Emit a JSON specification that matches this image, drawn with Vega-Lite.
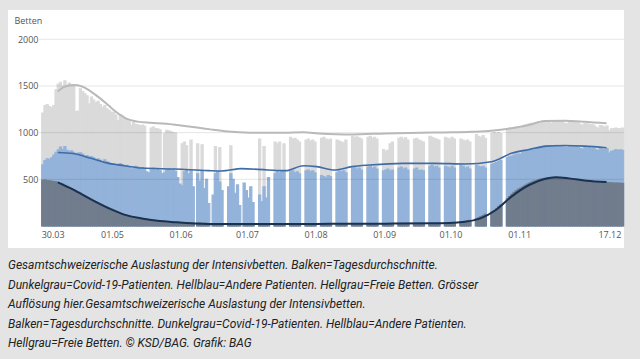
{
  "$schema": "https://vega.github.io/schema/vega-lite/v6.json",
  "width": 616,
  "height": 238,
  "autosize": {"type": "none"},
  "padding": {"left": 8, "top": 10, "right": 16, "bottom": 111},
  "background": "#e4e4e4",
  "view": {"fill": "#ffffff", "stroke": null},
  "config": {"font": "Open Sans", "bar": {"binSpacing": 0}},
  "title": {
    "text": [
      "Gesamtschweizerische Auslastung der Intensivbetten. Balken=Tagesdurchschnitte.",
      "Dunkelgrau=Covid-19-Patienten. Hellblau=Andere Patienten. Hellgrau=Freie Betten. Grösser",
      "Auflösung hier.Gesamtschweizerische Auslastung der Intensivbetten.",
      "Balken=Tagesdurchschnitte. Dunkelgrau=Covid-19-Patienten. Hellblau=Andere Patienten.",
      "Hellgrau=Freie Betten. © KSD/BAG. Grafik: BAG"
    ],
    "orient": "bottom",
    "anchor": "start",
    "frame": "bounds",
    "baseline": "top",
    "offset": 12,
    "font": "Roboto",
    "fontSize": 12,
    "fontStyle": "italic",
    "fontWeight": "normal",
    "color": "#222222",
    "lineHeight": 19.5
  },
  "datasets": {
    "tage": [
      {"date":"2020-03-30","covid":490,"belegt":655,"total":1210},
      {"date":"2020-03-31","covid":492,"belegt":700,"total":1290},
      {"date":"2020-04-01","covid":488,"belegt":720,"total":1300},
      {"date":"2020-04-02","covid":484,"belegt":715,"total":1280},
      {"date":"2020-04-03","covid":480,"belegt":730,"total":1265},
      {"date":"2020-04-04","covid":476,"belegt":760,"total":1290},
      {"date":"2020-04-05","covid":472,"belegt":790,"total":1460},
      {"date":"2020-04-06","covid":466,"belegt":815,"total":1520},
      {"date":"2020-04-07","covid":458,"belegt":845,"total":1540},
      {"date":"2020-04-08","covid":448,"belegt":820,"total":1500},
      {"date":"2020-04-09","covid":437,"belegt":850,"total":1555},
      {"date":"2020-04-10","covid":425,"belegt":810,"total":1510},
      {"date":"2020-04-11","covid":413,"belegt":800,"total":1530},
      {"date":"2020-04-12","covid":402,"belegt":805,"total":1495},
      {"date":"2020-04-13","covid":390,"belegt":790,"total":1505},
      {"date":"2020-04-14","covid":377,"belegt":770,"total":1225},
      {"date":"2020-04-15","covid":364,"belegt":780,"total":1230},
      {"date":"2020-04-16","covid":351,"belegt":785,"total":1470},
      {"date":"2020-04-17","covid":338,"belegt":770,"total":1440},
      {"date":"2020-04-18","covid":325,"belegt":750,"total":1420},
      {"date":"2020-04-19","covid":311,"belegt":755,"total":1395},
      {"date":"2020-04-20","covid":298,"belegt":740,"total":1310},
      {"date":"2020-04-21","covid":285,"belegt":745,"total":1380},
      {"date":"2020-04-22","covid":272,"belegt":730,"total":1350},
      {"date":"2020-04-23","covid":260,"belegt":700,"total":1320},
      {"date":"2020-04-24","covid":248,"belegt":720,"total":1335},
      {"date":"2020-04-25","covid":236,"belegt":705,"total":1300},
      {"date":"2020-04-26","covid":224,"belegt":690,"total":1270},
      {"date":"2020-04-27","covid":212,"belegt":710,"total":1290},
      {"date":"2020-04-28","covid":201,"belegt":690,"total":1255},
      {"date":"2020-04-29","covid":190,"belegt":680,"total":1240},
      {"date":"2020-04-30","covid":180,"belegt":670,"total":1220},
      {"date":"2020-05-01","covid":170,"belegt":660,"total":1215},
      {"date":"2020-05-02","covid":160,"belegt":640,"total":1190},
      {"date":"2020-05-03","covid":150,"belegt":650,"total":1130},
      {"date":"2020-05-04","covid":140,"belegt":670,"total":1195},
      {"date":"2020-05-05","covid":131,"belegt":655,"total":1180},
      {"date":"2020-05-06","covid":122,"belegt":640,"total":1150},
      {"date":"2020-05-07","covid":115,"belegt":650,"total":1140},
      {"date":"2020-05-08","covid":108,"belegt":625,"total":1125},
      {"date":"2020-05-09","covid":102,"belegt":610,"total":1080},
      {"date":"2020-05-10","covid":97,"belegt":615,"total":1110},
      {"date":"2020-05-11","covid":92,"belegt":640,"total":1090},
      {"date":"2020-05-12","covid":88,"belegt":630,"total":1085},
      {"date":"2020-05-13","covid":84,"belegt":620,"total":1075},
      {"date":"2020-05-14","covid":80,"belegt":625,"total":1080},
      {"date":"2020-05-15","covid":76,"belegt":610,"total":1070},
      {"date":"2020-05-16","covid":72,"belegt":580},
      {"date":"2020-05-17","covid":69,"belegt":570},
      {"date":"2020-05-18","covid":66,"belegt":610,"total":1050},
      {"date":"2020-05-19","covid":62,"belegt":620,"total":1060},
      {"date":"2020-05-20","covid":59,"belegt":600,"total":1045},
      {"date":"2020-05-21","covid":56,"belegt":605,"total":1040},
      {"date":"2020-05-22","covid":53,"belegt":590,"total":1030},
      {"date":"2020-05-23","covid":51,"belegt":560},
      {"date":"2020-05-24","covid":49,"belegt":570,"total":990},
      {"date":"2020-05-25","covid":47,"belegt":600,"total":1025},
      {"date":"2020-05-26","covid":45,"belegt":610,"total":1020},
      {"date":"2020-05-27","covid":43,"belegt":595,"total":1010},
      {"date":"2020-05-28","covid":42,"belegt":600,"total":1000},
      {"date":"2020-05-29","covid":40,"belegt":585,"total":995},
      {"date":"2020-05-30","covid":39,"belegt":520},
      {"date":"2020-05-31","covid":37,"belegt":450},
      {"date":"2020-06-01","covid":36,"belegt":430,"total":880},
      {"date":"2020-06-02","covid":35,"belegt":580,"total":900},
      {"date":"2020-06-03","covid":34,"belegt":600,"total":860},
      {"date":"2020-06-04","covid":33,"belegt":560},
      {"date":"2020-06-05","covid":32,"belegt":590,"total":920},
      {"date":"2020-06-06","covid":31,"belegt":420},
      {"date":"2020-06-08","covid":30,"belegt":560,"total":880},
      {"date":"2020-06-09","covid":30,"belegt":480},
      {"date":"2020-06-10","covid":29,"belegt":590,"total":870},
      {"date":"2020-06-11","covid":28,"belegt":400},
      {"date":"2020-06-12","covid":28,"belegt":500},
      {"date":"2020-06-13","covid":27,"belegt":240},
      {"date":"2020-06-15","covid":27,"belegt":330},
      {"date":"2020-06-16","covid":26,"belegt":560,"total":850},
      {"date":"2020-06-17","covid":26,"belegt":580},
      {"date":"2020-06-18","covid":25,"belegt":470,"total":840},
      {"date":"2020-06-19","covid":25,"belegt":380},
      {"date":"2020-06-22","covid":24,"belegt":420},
      {"date":"2020-06-23","covid":24,"belegt":560,"total":860},
      {"date":"2020-06-24","covid":23,"belegt":500},
      {"date":"2020-06-25","covid":23,"belegt":350},
      {"date":"2020-06-26","covid":23,"belegt":440},
      {"date":"2020-06-27","covid":22,"belegt":220},
      {"date":"2020-06-29","covid":22,"belegt":460},
      {"date":"2020-06-30","covid":22,"belegt":380},
      {"date":"2020-07-01","covid":22,"belegt":300},
      {"date":"2020-07-02","covid":21,"belegt":420},
      {"date":"2020-07-03","covid":21,"belegt":250},
      {"date":"2020-07-06","covid":21,"belegt":330,"total":930},
      {"date":"2020-07-07","covid":20,"belegt":260},
      {"date":"2020-07-08","covid":20,"belegt":420,"total":850},
      {"date":"2020-07-09","covid":20,"belegt":300},
      {"date":"2020-07-10","covid":20,"belegt":520},
      {"date":"2020-07-13","covid":19,"belegt":560,"total":900},
      {"date":"2020-07-14","covid":19,"belegt":590,"total":880},
      {"date":"2020-07-15","covid":19,"belegt":570,"total":900},
      {"date":"2020-07-16","covid":19,"belegt":590},
      {"date":"2020-07-17","covid":19,"belegt":580,"total":880},
      {"date":"2020-07-20","covid":19,"belegt":580,"total":950},
      {"date":"2020-07-21","covid":19,"belegt":590,"total":930},
      {"date":"2020-07-22","covid":19,"belegt":570,"total":940},
      {"date":"2020-07-23","covid":19,"belegt":580,"total":920},
      {"date":"2020-07-24","covid":19,"belegt":560,"total":900},
      {"date":"2020-07-27","covid":19,"belegt":590,"total":920},
      {"date":"2020-07-28","covid":19,"belegt":600,"total":930},
      {"date":"2020-07-29","covid":20,"belegt":580,"total":910},
      {"date":"2020-07-30","covid":20,"belegt":590,"total":920},
      {"date":"2020-07-31","covid":20,"belegt":570,"total":900},
      {"date":"2020-08-03","covid":20,"belegt":540,"total":940},
      {"date":"2020-08-04","covid":20,"belegt":530,"total":950},
      {"date":"2020-08-05","covid":20,"belegt":520,"total":930},
      {"date":"2020-08-06","covid":20,"belegt":540,"total":920},
      {"date":"2020-08-07","covid":20,"belegt":530,"total":930},
      {"date":"2020-08-10","covid":21,"belegt":570,"total":920},
      {"date":"2020-08-11","covid":21,"belegt":590,"total":910},
      {"date":"2020-08-12","covid":21,"belegt":580,"total":900},
      {"date":"2020-08-13","covid":22,"belegt":590,"total":890},
      {"date":"2020-08-14","covid":22,"belegt":570,"total":920},
      {"date":"2020-08-17","covid":22,"belegt":620,"total":960},
      {"date":"2020-08-18","covid":23,"belegt":630,"total":950},
      {"date":"2020-08-19","covid":23,"belegt":610,"total":955},
      {"date":"2020-08-20","covid":23,"belegt":620,"total":945},
      {"date":"2020-08-21","covid":24,"belegt":600,"total":930},
      {"date":"2020-08-24","covid":24,"belegt":630,"total":950},
      {"date":"2020-08-25","covid":24,"belegt":640,"total":960},
      {"date":"2020-08-26","covid":25,"belegt":620,"total":940},
      {"date":"2020-08-27","covid":25,"belegt":630,"total":950},
      {"date":"2020-08-28","covid":25,"belegt":610,"total":930},
      {"date":"2020-08-31","covid":25,"belegt":590,"total":820},
      {"date":"2020-09-01","covid":25,"belegt":600,"total":800},
      {"date":"2020-09-02","covid":25,"belegt":610,"total":810},
      {"date":"2020-09-03","covid":25,"belegt":590,"total":880},
      {"date":"2020-09-04","covid":25,"belegt":600,"total":900},
      {"date":"2020-09-07","covid":25,"belegt":620,"total":940},
      {"date":"2020-09-08","covid":25,"belegt":630,"total":950},
      {"date":"2020-09-09","covid":25,"belegt":610,"total":930},
      {"date":"2020-09-10","covid":25,"belegt":620,"total":945},
      {"date":"2020-09-11","covid":25,"belegt":600,"total":920},
      {"date":"2020-09-14","covid":26,"belegt":610,"total":930},
      {"date":"2020-09-15","covid":26,"belegt":620,"total":940},
      {"date":"2020-09-16","covid":26,"belegt":590,"total":920},
      {"date":"2020-09-17","covid":26,"belegt":600,"total":910},
      {"date":"2020-09-18","covid":26,"belegt":590,"total":900},
      {"date":"2020-09-21","covid":27,"belegt":640,"total":960},
      {"date":"2020-09-22","covid":27,"belegt":650,"total":950},
      {"date":"2020-09-23","covid":27,"belegt":630,"total":940},
      {"date":"2020-09-24","covid":27,"belegt":640,"total":930},
      {"date":"2020-09-25","covid":28,"belegt":620,"total":920},
      {"date":"2020-09-28","covid":29,"belegt":640,"total":950},
      {"date":"2020-09-29","covid":30,"belegt":630,"total":940},
      {"date":"2020-09-30","covid":31,"belegt":620,"total":930},
      {"date":"2020-10-01","covid":33,"belegt":640,"total":950},
      {"date":"2020-10-02","covid":35,"belegt":620,"total":930},
      {"date":"2020-10-05","covid":42,"belegt":650,"total":930},
      {"date":"2020-10-06","covid":46,"belegt":640,"total":920},
      {"date":"2020-10-07","covid":50,"belegt":620,"total":910},
      {"date":"2020-10-08","covid":55,"belegt":630,"total":920},
      {"date":"2020-10-09","covid":61,"belegt":610,"total":900},
      {"date":"2020-10-12","covid":78,"belegt":650,"total":980},
      {"date":"2020-10-13","covid":88,"belegt":640,"total":960},
      {"date":"2020-10-14","covid":100,"belegt":630,"total":950},
      {"date":"2020-10-15","covid":112,"belegt":640,"total":970},
      {"date":"2020-10-16","covid":126,"belegt":620,"total":940},
      {"date":"2020-10-19","covid":150,"belegt":660,"total":990},
      {"date":"2020-10-20","covid":165,"belegt":670,"total":1000},
      {"date":"2020-10-21","covid":185,"belegt":680,"total":990},
      {"date":"2020-10-22","covid":205,"belegt":690,"total":1000},
      {"date":"2020-10-23","covid":225,"belegt":700,"total":990},
      {"date":"2020-10-26","covid":290,"belegt":730,"total":1040},
      {"date":"2020-10-27","covid":315,"belegt":740,"total":1050},
      {"date":"2020-10-28","covid":340,"belegt":750,"total":1040},
      {"date":"2020-10-29","covid":360,"belegt":760,"total":1050},
      {"date":"2020-10-30","covid":380,"belegt":770,"total":1060},
      {"date":"2020-10-31","covid":395,"belegt":770,"total":1045},
      {"date":"2020-11-01","covid":405,"belegt":770,"total":1040},
      {"date":"2020-11-02","covid":420,"belegt":790,"total":1070},
      {"date":"2020-11-03","covid":435,"belegt":800,"total":1080},
      {"date":"2020-11-04","covid":448,"belegt":810,"total":1090},
      {"date":"2020-11-05","covid":460,"belegt":820,"total":1095},
      {"date":"2020-11-06","covid":470,"belegt":830,"total":1100},
      {"date":"2020-11-07","covid":480,"belegt":830,"total":1095},
      {"date":"2020-11-08","covid":488,"belegt":835,"total":1090},
      {"date":"2020-11-09","covid":495,"belegt":845,"total":1110},
      {"date":"2020-11-10","covid":502,"belegt":850,"total":1120},
      {"date":"2020-11-11","covid":508,"belegt":855,"total":1125},
      {"date":"2020-11-12","covid":512,"belegt":860,"total":1120},
      {"date":"2020-11-13","covid":516,"belegt":860,"total":1125},
      {"date":"2020-11-14","covid":518,"belegt":855,"total":1110},
      {"date":"2020-11-15","covid":520,"belegt":850,"total":1100},
      {"date":"2020-11-16","covid":520,"belegt":860,"total":1125},
      {"date":"2020-11-17","covid":518,"belegt":865,"total":1130},
      {"date":"2020-11-18","covid":515,"belegt":860,"total":1120},
      {"date":"2020-11-19","covid":512,"belegt":855,"total":1125},
      {"date":"2020-11-20","covid":510,"belegt":850,"total":1115},
      {"date":"2020-11-21","covid":507,"belegt":845,"total":1100},
      {"date":"2020-11-22","covid":504,"belegt":840,"total":1095},
      {"date":"2020-11-23","covid":500,"belegt":855,"total":1115},
      {"date":"2020-11-24","covid":497,"belegt":850,"total":1120},
      {"date":"2020-11-25","covid":494,"belegt":845,"total":1110},
      {"date":"2020-11-26","covid":491,"belegt":850,"total":1115},
      {"date":"2020-11-27","covid":488,"belegt":840,"total":1105},
      {"date":"2020-11-28","covid":485,"belegt":830,"total":1090},
      {"date":"2020-11-29","covid":482,"belegt":825,"total":1080},
      {"date":"2020-11-30","covid":480,"belegt":840,"total":1100},
      {"date":"2020-12-01","covid":478,"belegt":835,"total":1095},
      {"date":"2020-12-02","covid":476,"belegt":840,"total":1090},
      {"date":"2020-12-03","covid":474,"belegt":830,"total":1085},
      {"date":"2020-12-04","covid":472,"belegt":835,"total":1080},
      {"date":"2020-12-05","covid":470,"belegt":815,"total":1060},
      {"date":"2020-12-06","covid":469,"belegt":810,"total":1050},
      {"date":"2020-12-07","covid":468,"belegt":830,"total":1075},
      {"date":"2020-12-08","covid":467,"belegt":825,"total":1070},
      {"date":"2020-12-09","covid":466,"belegt":820,"total":1060},
      {"date":"2020-12-10","covid":465,"belegt":830,"total":1070},
      {"date":"2020-12-11","covid":463,"belegt":780,"total":1020},
      {"date":"2020-12-12","covid":462,"belegt":800,"total":1040},
      {"date":"2020-12-13","covid":461,"belegt":805,"total":1045},
      {"date":"2020-12-14","covid":460,"belegt":820,"total":1050},
      {"date":"2020-12-15","covid":460,"belegt":810,"total":1045},
      {"date":"2020-12-16","covid":458,"belegt":815,"total":1040},
      {"date":"2020-12-17","covid":456,"belegt":810,"total":1050}
    ],
    "total7": [
      {"date":"2020-04-06","wert":1440},{"date":"2020-04-09","wert":1490},{"date":"2020-04-13","wert":1510},
      {"date":"2020-04-17","wert":1495},{"date":"2020-04-21","wert":1440},{"date":"2020-04-25","wert":1370},
      {"date":"2020-04-29","wert":1290},{"date":"2020-05-03","wert":1210},{"date":"2020-05-07","wert":1150},
      {"date":"2020-05-12","wert":1118},{"date":"2020-05-18","wert":1105},{"date":"2020-05-25","wert":1095},
      {"date":"2020-05-30","wert":1082},{"date":"2020-06-08","wert":1055},{"date":"2020-06-14","wert":1035},
      {"date":"2020-06-22","wert":1012},{"date":"2020-07-02","wert":1000},{"date":"2020-07-17","wert":998},
      {"date":"2020-07-26","wert":1003},{"date":"2020-08-02","wert":992},{"date":"2020-08-17","wert":981},
      {"date":"2020-09-01","wert":992},{"date":"2020-09-17","wert":999},{"date":"2020-10-01","wert":1003},
      {"date":"2020-10-10","wert":1009},{"date":"2020-10-19","wert":1020},{"date":"2020-10-28","wert":1046},
      {"date":"2020-11-05","wert":1082},{"date":"2020-11-12","wert":1125},{"date":"2020-11-21","wert":1128},
      {"date":"2020-11-30","wert":1118},{"date":"2020-12-10","wert":1100}
    ],
    "belegt7": [
      {"date":"2020-04-06","wert":788},{"date":"2020-04-13","wert":776},{"date":"2020-04-21","wert":725},
      {"date":"2020-04-29","wert":671},{"date":"2020-05-06","wert":646},{"date":"2020-05-14","wert":621},
      {"date":"2020-05-29","wert":610},{"date":"2020-06-13","wert":593},{"date":"2020-06-19","wert":589},
      {"date":"2020-06-28","wert":614},{"date":"2020-07-10","wert":600},{"date":"2020-07-18","wert":593},
      {"date":"2020-07-26","wert":646},{"date":"2020-08-01","wert":636},{"date":"2020-08-09","wert":600},
      {"date":"2020-08-17","wert":636},{"date":"2020-08-25","wert":653},{"date":"2020-09-09","wert":671},
      {"date":"2020-09-23","wert":671},{"date":"2020-10-07","wert":664},{"date":"2020-10-19","wert":689},
      {"date":"2020-10-28","wert":778},{"date":"2020-11-05","wert":820},{"date":"2020-11-13","wert":856},
      {"date":"2020-11-21","wert":863},{"date":"2020-11-30","wert":856},{"date":"2020-12-10","wert":838}
    ],
    "covid7": [
      {"date":"2020-04-06","wert":468},{"date":"2020-04-13","wert":390},{"date":"2020-04-21","wert":285},
      {"date":"2020-04-29","wert":190},{"date":"2020-05-06","wert":122},{"date":"2020-05-14","wert":80},
      {"date":"2020-05-21","wert":55},{"date":"2020-05-29","wert":40},{"date":"2020-06-13","wert":22},
      {"date":"2020-06-28","wert":20},{"date":"2020-07-15","wert":20},{"date":"2020-08-01","wert":22},
      {"date":"2020-08-15","wert":24},{"date":"2020-09-01","wert":25},{"date":"2020-09-22","wert":28},
      {"date":"2020-10-07","wert":46},{"date":"2020-10-14","wert":82},{"date":"2020-10-21","wert":171},
      {"date":"2020-10-28","wert":314},{"date":"2020-11-05","wert":439},{"date":"2020-11-12","wert":503},
      {"date":"2020-11-17","wert":521},{"date":"2020-11-23","wert":510},{"date":"2020-12-01","wert":485},
      {"date":"2020-12-10","wert":471}
    ],
    "raster": [{"wert":500},{"wert":1000},{"wert":1500},{"wert":2000}]
  },
  "layer": [
    {
      "data": {"name": "tage"},
      "mark": {"type": "bar", "fill": "#dadada", "stroke": "#dadada", "strokeWidth": 1.1, "binSpacing": 0},
      "encoding": {
        "x": {
          "field": "date", "type": "temporal", "timeUnit": "utcyearmonthdate",
          "scale": {"type": "utc", "domain": [
            {"year": 2020, "month": 3, "date": 15, "utc": true},
            {"year": 2020, "month": 12, "date": 18, "hours": 9, "minutes": 30, "utc": true}
          ]},
          "axis": {
            "orient": "bottom", "offset": -22, "title": null, "domain": false, "grid": false,
            "ticks": false, "labelPadding": 4, "labelFontSize": 9, "labelColor": "#555555",
            "labelFont": "Open Sans", "format": "%d.%m", "labelFlush": 40,
            "values": [
              {"year": 2020, "month": 3, "date": 30, "utc": true},
              {"year": 2020, "month": 5, "date": 1, "utc": true},
              {"year": 2020, "month": 6, "date": 1, "utc": true},
              {"year": 2020, "month": 7, "date": 1, "utc": true},
              {"year": 2020, "month": 8, "date": 1, "utc": true},
              {"year": 2020, "month": 9, "date": 1, "utc": true},
              {"year": 2020, "month": 10, "date": 1, "utc": true},
              {"year": 2020, "month": 11, "date": 1, "utc": true},
              {"year": 2020, "month": 12, "date": 17, "utc": true}
            ]
          }
        },
        "y": {
          "field": "total", "type": "quantitative",
          "scale": {"domain": [-236, 2314], "nice": false, "zero": false},
          "axis": {
            "orient": "left", "offset": -34, "domain": false, "ticks": false, "grid": false,
            "values": [500, 1000, 1500, 2000], "format": "d", "labelPadding": 4, "labelFontSize": 9,
            "labelColor": "#555555", "labelFont": "Open Sans",
            "title": "Betten", "titleAngle": 0, "titleX": -28, "titleY": 10,
            "titleAlign": "left", "titleBaseline": "middle", "titleFontSize": 9,
            "titleFontWeight": "normal", "titleColor": "#555555", "titleFont": "Open Sans"
          }
        }
      }
    },
    {
      "data": {"name": "tage"},
      "mark": {"type": "bar", "fill": "#94b3da", "stroke": "#94b3da", "strokeWidth": 1.1, "binSpacing": 0},
      "encoding": {
        "x": {"field": "date", "type": "temporal", "timeUnit": "utcyearmonthdate"},
        "y": {"field": "belegt", "type": "quantitative"}
      }
    },
    {
      "data": {"name": "tage"},
      "mark": {"type": "bar", "fill": "#717d8d", "stroke": "#717d8d", "strokeWidth": 1.1, "binSpacing": 0},
      "encoding": {
        "x": {"field": "date", "type": "temporal", "timeUnit": "utcyearmonthdate"},
        "y": {"field": "covid", "type": "quantitative"}
      }
    },
    {
      "data": {"name": "raster"},
      "mark": {"type": "rule", "stroke": "#000000", "strokeOpacity": 0.1, "strokeWidth": 1},
      "encoding": {
        "y": {"field": "wert", "type": "quantitative"},
        "x": {"datum": {"year": 2020, "month": 3, "date": 29, "utc": true}, "type": "temporal"},
        "x2": {"datum": {"year": 2020, "month": 12, "date": 18, "hours": 9, "minutes": 30, "utc": true}}
      }
    },
    {
      "mark": {"type": "rule", "stroke": "#333333", "strokeWidth": 1},
      "encoding": {
        "y": {"datum": 0, "type": "quantitative"},
        "x": {"datum": {"year": 2020, "month": 3, "date": 30, "utc": true}, "type": "temporal"},
        "x2": {"datum": {"year": 2020, "month": 12, "date": 18, "utc": true}}
      }
    },
    {
      "data": {"name": "total7"},
      "mark": {"type": "line", "stroke": "#b9b9b9", "strokeWidth": 2, "interpolate": "monotone"},
      "encoding": {
        "x": {"field": "date", "type": "temporal", "timeUnit": "utcyearmonthdate", "bandPosition": 0.5},
        "y": {"field": "wert", "type": "quantitative"}
      }
    },
    {
      "data": {"name": "belegt7"},
      "mark": {"type": "line", "stroke": "#3d6ca7", "strokeWidth": 1.6, "interpolate": "monotone"},
      "encoding": {
        "x": {"field": "date", "type": "temporal", "timeUnit": "utcyearmonthdate", "bandPosition": 0.5},
        "y": {"field": "wert", "type": "quantitative"}
      }
    },
    {
      "data": {"name": "covid7"},
      "mark": {"type": "line", "stroke": "#1a3150", "strokeWidth": 2, "interpolate": "monotone"},
      "encoding": {
        "x": {"field": "date", "type": "temporal", "timeUnit": "utcyearmonthdate", "bandPosition": 0.5},
        "y": {"field": "wert", "type": "quantitative"}
      }
    }
  ]
}
